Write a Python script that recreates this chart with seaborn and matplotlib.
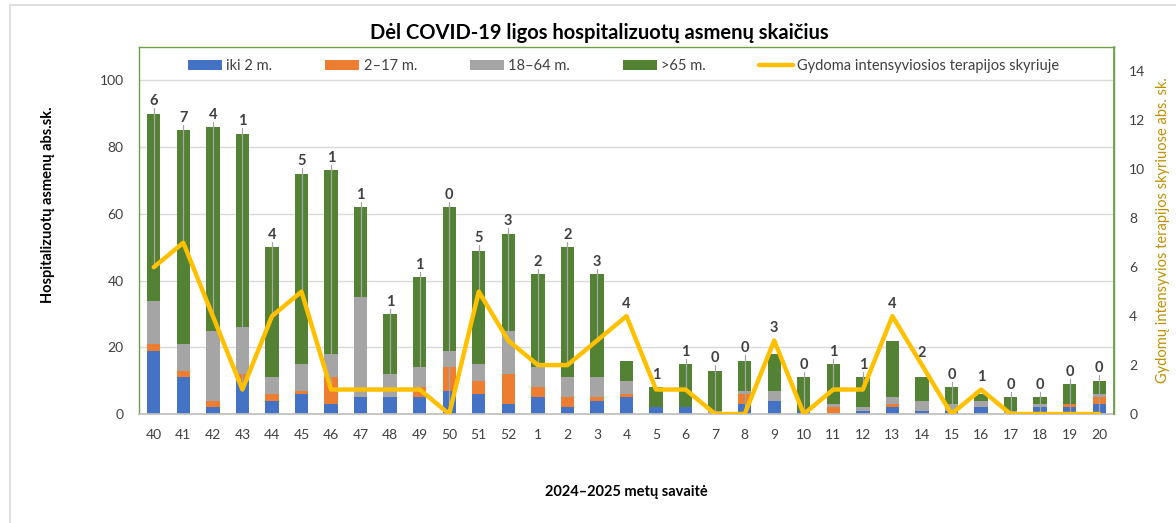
import numpy as np
import pandas as pd
import matplotlib
matplotlib.use("Agg")
import matplotlib.pyplot as plt
import seaborn as sns
from matplotlib.patches import Patch
from matplotlib.lines import Line2D

# savaitės 2024-40 ... 2025-20
weeks = ["40", "41", "42", "43", "44", "45", "46", "47", "48", "49", "50", "51", "52",
         "1", "2", "3", "4", "5", "6", "7", "8", "9", "10", "11", "12", "13", "14",
         "15", "16", "17", "18", "19", "20"]

age_0_2 = [19, 11, 2, 10, 4, 6, 3, 5, 5, 5, 7, 6, 3, 5, 2, 4, 5, 2, 2, 0, 3, 4, 1, 0, 1, 2, 1, 1, 2, 0, 2, 2, 3]
age_2_17 = [2, 2, 2, 2, 2, 1, 8, 0, 0, 3, 7, 4, 9, 3, 3, 1, 1, 0, 0, 0, 3, 0, 0, 2, 0, 1, 0, 0, 0, 0, 0, 1, 2]
age_18_64 = [13, 8, 21, 14, 5, 8, 7, 30, 7, 6, 5, 5, 13, 6, 6, 6, 4, 0, 0, 1, 1, 3, 0, 1, 1, 2, 3, 2, 2, 1, 1, 0, 1]
age_65 = [56, 64, 61, 58, 39, 57, 55, 27, 18, 27, 43, 34, 29, 28, 39, 31, 6, 6, 13, 12, 9, 11, 10, 12, 9, 17, 7, 5, 2, 4, 2, 6, 4]
icu = [6, 7, 4, 1, 4, 5, 1, 1, 1, 1, 0, 5, 3, 2, 2, 3, 4, 1, 1, 0, 0, 3, 0, 1, 1, 4, 2, 0, 1, 0, 0, 0, 0]

groups = [("iki 2 m.", age_0_2, "#4472C4"),
          ("2–17 m.", age_2_17, "#ED7D31"),
          ("18–64 m.", age_18_64, "#A5A5A5"),
          (">65 m.", age_65, "#548235")]
icu_label = "Gydoma intensyviosios terapijos skyriuje"

W, H = 1176, 523
LEFT_MAX, RIGHT_MAX = 110, 15
GOLD = "#FFC000"
FRAME = "#6E9F4B"
TXT = "#404040"

sns.set_theme(style="white")
plt.rcParams["font.family"] = ["Lato", "DejaVu Sans"]

df = pd.DataFrame({"week": weeks, "pos": np.arange(len(weeks)), "icu": icu})
for name, vals, _ in groups:
    df[name] = vals

fig = plt.figure(figsize=(W / 100, H / 100), dpi=100)
ax = fig.add_axes([139 / W, 1 - 414 / H, (1114 - 139) / W, (414 - 47) / H])

bottom = np.zeros(len(weeks))
for name, vals, color in groups:
    sns.barplot(data=df, x="week", y=name, order=weeks, color=color, saturation=1,
                width=0.45, bottom=bottom, linewidth=0, ax=ax)
    bottom = bottom + np.array(vals)
total = bottom

ax.set_ylim(0, LEFT_MAX)
ax.set_yticks(range(0, 101, 20))
ax.set_xlim(-0.5, len(weeks) - 0.5)
ax.set_xlabel("")
ax.set_ylabel("")
ax.set_axisbelow(True)
ax.yaxis.grid(True, color="#D9D9D9", linewidth=1)
ax.tick_params(axis="both", length=0, labelsize=10, colors=TXT)
ax.tick_params(axis="x", pad=11)
ax.tick_params(axis="y", pad=11)
for s in ["left", "top", "right"]:
    ax.spines[s].set_color(FRAME)
    ax.spines[s].set_linewidth(1)
ax.spines["bottom"].set_color("#BFBFBF")

ax2 = ax.twinx()
sns.lineplot(data=df, x="pos", y="icu", color=GOLD, linewidth=3.2, ax=ax2)
ax2.set_ylim(0, RIGHT_MAX)
ax2.set_yticks(range(0, 15, 2))
ax2.set_xlim(-0.5, len(weeks) - 0.5)
ax2.set_xlabel("")
ax2.set_ylabel("")
ax2.tick_params(axis="y", length=0, labelsize=10, colors=TXT, pad=11)
for s in ["left", "top", "bottom"]:
    ax2.spines[s].set_visible(False)
ax2.spines["right"].set_color(FRAME)

# duomenų žymės su nuorodų linijomis
scale = LEFT_MAX / RIGHT_MAX
for i, v in enumerate(icu):
    lu = v * scale
    anchor = max(total[i], lu)
    ax.text(i, anchor + 3.7, str(v), ha="center", va="center", fontsize=10.5,
            color=TXT, fontweight="bold")
    if anchor - lu > 1.5:
        ax.plot([i, i], [anchor + 1.6, lu], color="#A6A6A6", linewidth=0.9, zorder=3)

handles = [Patch(facecolor=c, edgecolor="none") for _, _, c in groups]
handles.append(Line2D([0], [0], color=GOLD, linewidth=3.2))
labels = [n for n, _, _ in groups] + [icu_label]
ax2.legend(handles, labels, loc="center", bbox_to_anchor=(0.497, 0.948), ncol=5,
           frameon=False, fontsize=10.5, handlelength=2.35, handleheight=0.72,
           handletextpad=0.3, columnspacing=3.6, labelcolor=TXT)

fig.text(599 / W, 1 - 33 / H, "Dėl COVID-19 ligos hospitalizuotų asmenų skaičius",
         ha="center", va="center", fontsize=14.5, fontweight="bold", color="black")
fig.text(626 / W, 1 - 492 / H, "2024–2025 metų savaitė", ha="center", va="center",
         fontsize=10.5, fontweight="bold", color="black")
fig.text(48 / W, 1 - 205 / H, "Hospitalizuotų asmenų abs.sk.", rotation=90,
         ha="center", va="center", fontsize=10.5, fontweight="bold", color="black")
fig.text(1163 / W, 1 - 230 / H, "Gydomų intensyvios terapijos skyriuose abs. sk.",
         rotation=90, ha="center", va="center", fontsize=10.5, color="#BF9000")

# išorinis rėmelis
fig.add_artist(Line2D([10 / W, 10 / W], [0, 1 - 5 / H], color="#D9D9D9", linewidth=1.2))
fig.add_artist(Line2D([10 / W, 1], [1 - 5 / H, 1 - 5 / H], color="#D9D9D9", linewidth=1.2))

fig.savefig("out.png", dpi=100)
